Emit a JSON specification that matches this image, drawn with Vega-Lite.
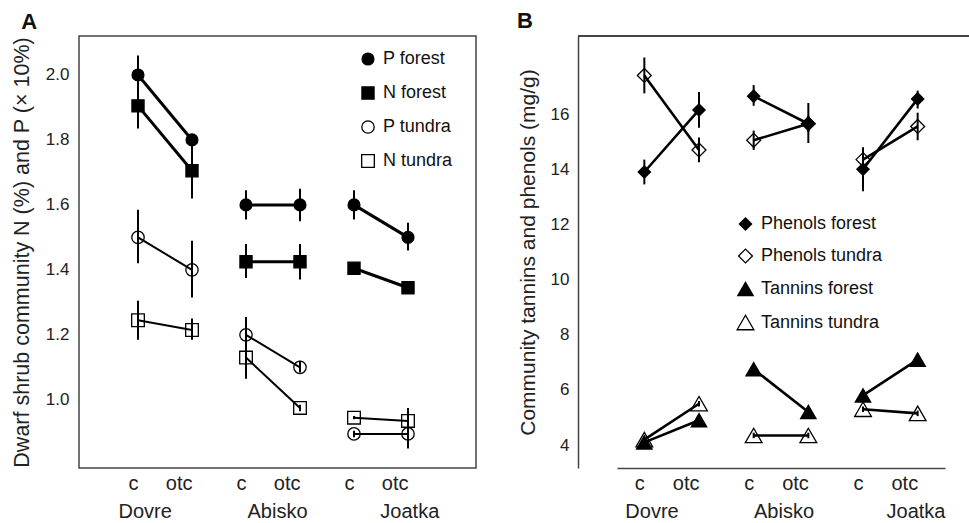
{
  "$schema": "https://vega.github.io/schema/vega-lite/v6.json",
  "padding": {"left": 10, "top": 10, "right": 0, "bottom": 0},
  "spacing": 40,
  "config": {
    "font": "Liberation Sans",
    "view": {"stroke": null},
    "axis": {"labelFont": "Liberation Sans", "labelFontSize": 17, "labelColor": "#222", "titleFont": "Liberation Sans", "titleFontSize": 21, "titleFontWeight": "normal", "titleColor": "#222", "ticks": false, "grid": false, "domainColor": "#444", "domainWidth": 1.5},
    "legend": {"labelFont": "Liberation Sans", "labelFontSize": 18, "labelColor": "#111", "symbolStrokeWidth": 1.3, "rowPadding": 14, "labelOffset": 6, "padding": 0},
    "title": {"font": "Liberation Sans", "fontSize": 22, "fontWeight": "bold", "anchor": "start", "color": "#111", "offset": 2}
  },
  "resolve": {"scale": {"shape": "independent", "fill": "independent", "size": "independent", "stroke": "independent", "strokeWidth": "independent"}, "legend": {"shape": "independent", "fill": "independent", "size": "independent", "stroke": "independent"}},
  "datasets": {
    "A": [
      {"s": "P forest", "hab": "forest", "site": "Dovre", "cond": "Dovre c", "m": 2.0, "lo": 1.94, "hi": 2.06},
      {"s": "P forest", "hab": "forest", "site": "Dovre", "cond": "Dovre otc", "m": 1.8, "lo": 1.785, "hi": 1.815},
      {"s": "P forest", "hab": "forest", "site": "Abisko", "cond": "Abisko c", "m": 1.6, "lo": 1.555, "hi": 1.645},
      {"s": "P forest", "hab": "forest", "site": "Abisko", "cond": "Abisko otc", "m": 1.6, "lo": 1.55, "hi": 1.65},
      {"s": "P forest", "hab": "forest", "site": "Joatka", "cond": "Joatka c", "m": 1.6, "lo": 1.555, "hi": 1.645},
      {"s": "P forest", "hab": "forest", "site": "Joatka", "cond": "Joatka otc", "m": 1.5, "lo": 1.46, "hi": 1.545},
      {"s": "N forest", "hab": "forest", "site": "Dovre", "cond": "Dovre c", "m": 1.905, "lo": 1.835, "hi": 1.975},
      {"s": "N forest", "hab": "forest", "site": "Dovre", "cond": "Dovre otc", "m": 1.705, "lo": 1.62, "hi": 1.79},
      {"s": "N forest", "hab": "forest", "site": "Abisko", "cond": "Abisko c", "m": 1.425, "lo": 1.375, "hi": 1.48},
      {"s": "N forest", "hab": "forest", "site": "Abisko", "cond": "Abisko otc", "m": 1.425, "lo": 1.37, "hi": 1.48},
      {"s": "N forest", "hab": "forest", "site": "Joatka", "cond": "Joatka c", "m": 1.405, "lo": 1.4, "hi": 1.41},
      {"s": "N forest", "hab": "forest", "site": "Joatka", "cond": "Joatka otc", "m": 1.345, "lo": 1.34, "hi": 1.35},
      {"s": "P tundra", "hab": "tundra", "site": "Dovre", "cond": "Dovre c", "m": 1.5, "lo": 1.42, "hi": 1.585},
      {"s": "P tundra", "hab": "tundra", "site": "Dovre", "cond": "Dovre otc", "m": 1.4, "lo": 1.315, "hi": 1.49},
      {"s": "P tundra", "hab": "tundra", "site": "Abisko", "cond": "Abisko c", "m": 1.2, "lo": 1.145, "hi": 1.255},
      {"s": "P tundra", "hab": "tundra", "site": "Abisko", "cond": "Abisko otc", "m": 1.1, "lo": 1.085, "hi": 1.12},
      {"s": "P tundra", "hab": "tundra", "site": "Joatka", "cond": "Joatka c", "m": 0.895, "lo": 0.885, "hi": 0.905},
      {"s": "P tundra", "hab": "tundra", "site": "Joatka", "cond": "Joatka otc", "m": 0.895, "lo": 0.85, "hi": 0.92},
      {"s": "N tundra", "hab": "tundra", "site": "Dovre", "cond": "Dovre c", "m": 1.245, "lo": 1.185, "hi": 1.305},
      {"s": "N tundra", "hab": "tundra", "site": "Dovre", "cond": "Dovre otc", "m": 1.215, "lo": 1.185, "hi": 1.25},
      {"s": "N tundra", "hab": "tundra", "site": "Abisko", "cond": "Abisko c", "m": 1.13, "lo": 1.065, "hi": 1.19},
      {"s": "N tundra", "hab": "tundra", "site": "Abisko", "cond": "Abisko otc", "m": 0.975, "lo": 0.965, "hi": 0.985},
      {"s": "N tundra", "hab": "tundra", "site": "Joatka", "cond": "Joatka c", "m": 0.945, "lo": 0.94, "hi": 0.95},
      {"s": "N tundra", "hab": "tundra", "site": "Joatka", "cond": "Joatka otc", "m": 0.935, "lo": 0.9, "hi": 0.975}
    ],
    "B": [
      {"s": "Phenols forest", "hab": "forest", "site": "Dovre", "cond": "Dovre c", "m": 13.9, "lo": 13.45, "hi": 14.35},
      {"s": "Phenols forest", "hab": "forest", "site": "Dovre", "cond": "Dovre otc", "m": 16.15, "lo": 15.5, "hi": 16.8},
      {"s": "Phenols forest", "hab": "forest", "site": "Abisko", "cond": "Abisko c", "m": 16.65, "lo": 16.3, "hi": 17.05},
      {"s": "Phenols forest", "hab": "forest", "site": "Abisko", "cond": "Abisko otc", "m": 15.65, "lo": 14.95, "hi": 16.4},
      {"s": "Phenols forest", "hab": "forest", "site": "Joatka", "cond": "Joatka c", "m": 14.0, "lo": 13.2, "hi": 14.8},
      {"s": "Phenols forest", "hab": "forest", "site": "Joatka", "cond": "Joatka otc", "m": 16.55, "lo": 16.2, "hi": 16.85},
      {"s": "Phenols tundra", "hab": "tundra", "site": "Dovre", "cond": "Dovre c", "m": 17.4, "lo": 16.75, "hi": 18.05},
      {"s": "Phenols tundra", "hab": "tundra", "site": "Dovre", "cond": "Dovre otc", "m": 14.7, "lo": 14.25, "hi": 15.15},
      {"s": "Phenols tundra", "hab": "tundra", "site": "Abisko", "cond": "Abisko c", "m": 15.05, "lo": 14.7, "hi": 15.4},
      {"s": "Phenols tundra", "hab": "tundra", "site": "Abisko", "cond": "Abisko otc", "m": 15.65, "lo": 15.35, "hi": 15.95},
      {"s": "Phenols tundra", "hab": "tundra", "site": "Joatka", "cond": "Joatka c", "m": 14.35, "lo": 13.95, "hi": 14.75},
      {"s": "Phenols tundra", "hab": "tundra", "site": "Joatka", "cond": "Joatka otc", "m": 15.55, "lo": 15.05, "hi": 16.05},
      {"s": "Tannins forest", "hab": "forest", "site": "Dovre", "cond": "Dovre c", "m": 4.1, "lo": 4.0, "hi": 4.2},
      {"s": "Tannins forest", "hab": "forest", "site": "Dovre", "cond": "Dovre otc", "m": 4.9, "lo": 4.8, "hi": 5.0},
      {"s": "Tannins forest", "hab": "forest", "site": "Abisko", "cond": "Abisko c", "m": 6.75, "lo": 6.65, "hi": 6.85},
      {"s": "Tannins forest", "hab": "forest", "site": "Abisko", "cond": "Abisko otc", "m": 5.2, "lo": 5.1, "hi": 5.3},
      {"s": "Tannins forest", "hab": "forest", "site": "Joatka", "cond": "Joatka c", "m": 5.8, "lo": 5.7, "hi": 5.9},
      {"s": "Tannins forest", "hab": "forest", "site": "Joatka", "cond": "Joatka otc", "m": 7.1, "lo": 7.0, "hi": 7.2},
      {"s": "Tannins tundra", "hab": "tundra", "site": "Dovre", "cond": "Dovre c", "m": 4.2, "lo": 4.1, "hi": 4.3},
      {"s": "Tannins tundra", "hab": "tundra", "site": "Dovre", "cond": "Dovre otc", "m": 5.5, "lo": 5.4, "hi": 5.6},
      {"s": "Tannins tundra", "hab": "tundra", "site": "Abisko", "cond": "Abisko c", "m": 4.35, "lo": 4.25, "hi": 4.45},
      {"s": "Tannins tundra", "hab": "tundra", "site": "Abisko", "cond": "Abisko otc", "m": 4.35, "lo": 4.25, "hi": 4.45},
      {"s": "Tannins tundra", "hab": "tundra", "site": "Joatka", "cond": "Joatka c", "m": 5.3, "lo": 5.2, "hi": 5.4},
      {"s": "Tannins tundra", "hab": "tundra", "site": "Joatka", "cond": "Joatka otc", "m": 5.15, "lo": 5.05, "hi": 5.25}
    ]
  },
  "hconcat": [
    {
      "title": {"text": "A", "dx": 10},
      "width": 397,
      "height": 432,
      "data": {"name": "A"},
      "view": {"stroke": "#444", "strokeWidth": 1.5},
      "layer": [
        {
          "layer": [
            {
              "mark": {"type": "line", "color": "black"},
              "encoding": {
                "x": {"field": "cond", "type": "nominal"},
                "y": {"field": "m", "type": "quantitative"},
                "detail": [{"field": "s"}, {"field": "site"}],
                "strokeWidth": {"field": "hab", "type": "ordinal", "scale": {"domain": ["forest", "tundra"], "range": [3, 2]}, "legend": null}
              }
            },
            {
              "mark": {"type": "point", "filled": true, "strokeWidth": 1.3, "opacity": 1},
              "encoding": {
                "x": {"field": "cond", "type": "nominal"},
                "y": {"field": "m", "type": "quantitative"},
                "shape": {"field": "s", "type": "nominal", "scale": {"domain": ["P forest", "N forest", "P tundra", "N tundra"], "range": ["circle", "square", "circle", "square"]}, "legend": {"title": null, "orient": "none", "legendX": 280, "legendY": 14, "rowPadding": 16}},
                "fill": {"field": "s", "type": "nominal", "scale": {"domain": ["P forest", "N forest", "P tundra", "N tundra"], "range": ["black", "black", "transparent", "transparent"]}, "legend": {"title": null, "orient": "none", "legendX": 280, "legendY": 14, "rowPadding": 16}},
                "stroke": {"field": "s", "type": "nominal", "scale": {"domain": ["P forest", "N forest", "P tundra", "N tundra"], "range": ["black", "black", "black", "black"]}, "legend": {"title": null, "orient": "none", "legendX": 280, "legendY": 14, "rowPadding": 16}},
                "size": {"field": "s", "type": "nominal", "scale": {"domain": ["P forest", "N forest", "P tundra", "N tundra"], "range": [140, 160, 140, 160]}, "legend": {"title": null, "orient": "none", "legendX": 280, "legendY": 14, "rowPadding": 16}}
              }
            },
            {
              "mark": {"type": "rule", "color": "black", "strokeWidth": 2},
              "encoding": {
                "x": {"field": "cond", "type": "nominal", "scale": {"type": "point", "domain": ["Dovre c", "Dovre otc", "Abisko c", "Abisko otc", "Joatka c", "Joatka otc"], "range": [32, 356]}, "axis": {"title": null, "domain": false, "labelAngle": 0, "labelFontSize": 20, "labelPadding": 15, "labelExpr": "split(datum.value, ' ')[1]"}},
                "y": {"field": "lo", "type": "quantitative", "scale": {"domain": [0.79, 2.12], "nice": false, "zero": false}, "axis": {"title": "Dwarf shrub community N (%) and P (× 10%)", "titleFontSize": 21.5, "values": [1.0, 1.2, 1.4, 1.6, 1.8, 2.0], "format": ".1f", "domain": false, "labelPadding": 10, "titlePadding": 12}},
                "y2": {"field": "hi"}
              }
            }
          ]
        },
        {
          "mark": {"type": "point", "opacity": 0},
          "encoding": {
            "x": {"field": "site", "type": "nominal", "scale": {"type": "band", "domain": ["Dovre", "Abisko", "Joatka"], "paddingInner": 0, "paddingOuter": 0}, "axis": {"orient": "bottom", "title": null, "domain": false, "labelAngle": 0, "labelFontSize": 20, "labelPadding": 33}},
            "y": {"field": "m", "type": "quantitative"}
          }
        }
      ],
      "resolve": {"scale": {"x": "independent"}, "axis": {"x": "independent"}}
    },
    {
      "title": {"text": "B"},
      "width": 393,
      "height": 432,
      "data": {"name": "B"},
      "layer": [
        {
          "layer": [
            {
              "mark": {"type": "rule", "color": "#444", "strokeWidth": 1.5},
              "encoding": {"y": {"datum": 18.83}}
            },
            {
              "mark": {"type": "line", "color": "black", "strokeWidth": 2.6},
              "encoding": {
                "x": {"field": "cond", "type": "nominal"},
                "y": {"field": "m", "type": "quantitative"},
                "detail": [{"field": "s"}, {"field": "site"}]
              }
            },
            {
              "mark": {"type": "point", "filled": true, "strokeWidth": 1.3, "opacity": 1},
              "encoding": {
                "x": {"field": "cond", "type": "nominal"},
                "y": {"field": "m", "type": "quantitative"},
                "shape": {"field": "s", "type": "nominal", "scale": {"domain": ["Phenols forest", "Phenols tundra", "Tannins forest", "Tannins tundra"], "range": ["diamond", "diamond", "triangle-up", "triangle-up"]}, "legend": {"title": null, "orient": "none", "legendX": 158, "legendY": 179, "rowPadding": 13}},
                "fill": {"field": "s", "type": "nominal", "scale": {"domain": ["Phenols forest", "Phenols tundra", "Tannins forest", "Tannins tundra"], "range": ["black", "transparent", "black", "transparent"]}, "legend": {"title": null, "orient": "none", "legendX": 158, "legendY": 179, "rowPadding": 13}},
                "stroke": {"field": "s", "type": "nominal", "scale": {"domain": ["Phenols forest", "Phenols tundra", "Tannins forest", "Tannins tundra"], "range": ["black", "black", "black", "black"]}, "legend": {"title": null, "orient": "none", "legendX": 158, "legendY": 179, "rowPadding": 13}},
                "size": {"field": "s", "type": "nominal", "scale": {"domain": ["Phenols forest", "Phenols tundra", "Tannins forest", "Tannins tundra"], "range": [150, 280, 200, 200]}, "legend": {"title": null, "orient": "none", "legendX": 158, "legendY": 179, "rowPadding": 13}}
              }
            },
            {
              "mark": {"type": "rule", "color": "black", "strokeWidth": 2},
              "encoding": {
                "x": {"field": "cond", "type": "nominal", "scale": {"type": "point", "domain": ["Dovre c", "Dovre otc", "Abisko c", "Abisko otc", "Joatka c", "Joatka otc"], "range": [39, 367]}, "axis": {"title": null, "domain": true, "labelAngle": 0, "labelFontSize": 20, "labelPadding": 15, "labelExpr": "split(datum.value, ' ')[1]"}},
                "y": {"field": "lo", "type": "quantitative", "scale": {"domain": [3.17, 18.83], "nice": false, "zero": false}, "axis": {"title": "Community tannins and phenols (mg/g)", "values": [4, 6, 8, 10, 12, 14, 16], "format": "d", "domain": true, "labelPadding": 9, "titlePadding": 12}},
                "y2": {"field": "hi"}
              }
            }
          ]
        },
        {
          "mark": {"type": "point", "opacity": 0},
          "encoding": {
            "x": {"field": "site", "type": "nominal", "scale": {"type": "band", "domain": ["Dovre", "Abisko", "Joatka"], "paddingInner": 0, "paddingOuter": 0, "range": [8, 404]}, "axis": {"orient": "bottom", "title": null, "domain": false, "labelAngle": 0, "labelFontSize": 20, "labelPadding": 33}},
            "y": {"field": "m", "type": "quantitative"}
          }
        }
      ],
      "resolve": {"scale": {"x": "independent"}, "axis": {"x": "independent"}}
    }
  ]
}
